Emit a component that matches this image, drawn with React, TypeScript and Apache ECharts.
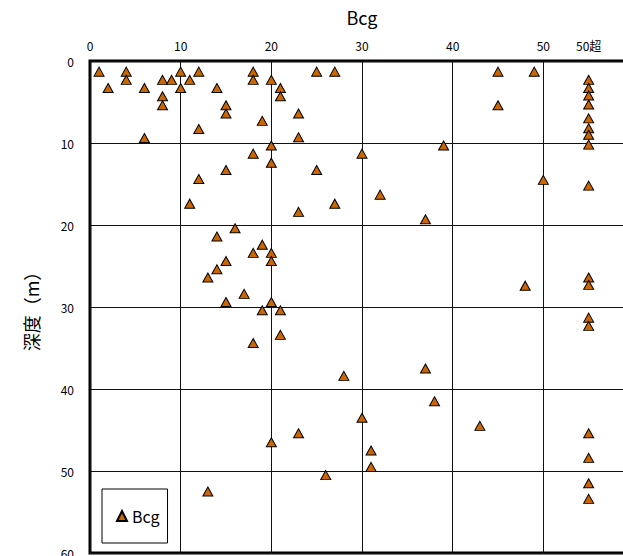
import React, { useEffect, useRef } from 'react';
import * as echarts from 'echarts';

// Bcg value of each test ("50超" = over 50), and its depth (m)
const OVER_LABEL = '50超';
const OVER_POS = 55;

const bcgValues: (number | string)[] = [
  1, 4, 4, 2, 6, 8, 9, 10, 10, 11, 12, 8, 8, 14, 15, 15, 18, 18, 19, 12,
  6, 18, 15, 12, 20, 21, 21, 25, 27, 23, 23, 20, 20, 25, 45, 49, 45,
  '50超', '50超', '50超', '50超', '50超', '50超', '50超', '50超',
  39, 30, 50, '50超',
  11, 23, 27, 16, 14, 19, 18, 20, 20, 15, 14, 13, 17, 15, 20, 19, 21, 21, 18, 28,
  32, 37, 48, '50超', '50超', '50超', '50超',
  37, 23, 20, 26, 13, 38, 30, 43, 31, 31,
  '50超', '50超', '50超', '50超',
];

const depthValues: number[] = [
  1.3, 1.3, 2.3, 3.3, 3.3, 2.3, 2.3, 1.3, 3.3, 2.3, 1.3, 4.3, 5.4, 3.3, 5.4, 6.4, 1.3, 2.3, 7.3, 8.3,
  9.4, 11.3, 13.3, 14.4, 2.3, 3.3, 4.3, 1.3, 1.3, 6.4, 9.3, 10.3, 12.4, 13.3, 1.3, 1.3, 5.4,
  2.3, 3.3, 4.2, 5.3, 7.0, 8.2, 9.0, 10.2,
  10.3, 11.3, 14.5, 15.2,
  17.4, 18.4, 17.4, 20.4, 21.4, 22.4, 23.4, 23.4, 24.4, 24.4, 25.4, 26.4, 28.4, 29.4, 29.4, 30.4, 30.4, 33.4, 34.4, 38.4,
  16.3, 19.3, 27.4, 26.4, 27.3, 31.3, 32.3,
  37.5, 45.4, 46.5, 50.5, 52.5, 41.5, 43.5, 44.5, 47.5, 49.5,
  45.4, 48.4, 51.5, 53.4,
];

const xTickLabels = ['0', '10', '20', '30', '40', '50'];

export default function App() {
  const ref = useRef<HTMLDivElement>(null);

  useEffect(() => {
    if (!ref.current) return;
    const chart = echarts.init(ref.current, null, { renderer: 'svg' });
    const font = '"Noto Sans CJK JP", "Noto Sans", sans-serif';
    const data = bcgValues.map((b, i) => [b === OVER_LABEL ? OVER_POS : b, depthValues[i]]);

    chart.setOption({
      animation: false,
      textStyle: { fontFamily: font, color: '#000' },
      grid: {
        left: 90,
        top: 61,
        width: 544,
        height: 492,
        show: true,
        borderColor: '#000',
        borderWidth: 3,
        backgroundColor: '#fff',
      },
      legend: {
        left: 102,
        top: 489,
        orient: 'vertical',
        backgroundColor: '#fff',
        borderColor: '#000',
        borderWidth: 1,
        borderRadius: 0,
        padding: [19, 8, 19, 14],
        itemWidth: 10,
        itemHeight: 10,
        textStyle: { fontSize: 16, color: '#000', fontFamily: font },
        data: [{ name: 'Bcg', icon: 'triangle' }],
      },
      xAxis: [
        {
          type: 'value',
          position: 'top',
          min: 0,
          max: 60,
          interval: 10,
          name: 'Bcg',
          nameLocation: 'middle',
          nameGap: 35,
          nameTextStyle: { fontSize: 18, color: '#000', fontFamily: font },
          axisLine: { show: false },
          axisTick: { show: false },
          axisLabel: {
            color: '#000',
            fontSize: 12,
            margin: 10,
            fontFamily: font,
            formatter: (v: number) => {
              const s = String(v);
              return xTickLabels.includes(s) ? s : '';
            },
          },
          splitLine: { show: true, lineStyle: { color: '#111', width: 1 } },
        },
        {
          type: 'value',
          position: 'top',
          min: 0,
          max: 60,
          interval: 55,
          axisLine: { show: false },
          axisTick: { show: false },
          splitLine: { show: false },
          axisLabel: {
            color: '#000',
            fontSize: 12,
            margin: 10,
            fontFamily: font,
            formatter: (v: number) => (v === OVER_POS ? OVER_LABEL : ''),
          },
        },
      ],
      yAxis: {
        type: 'value',
        inverse: true,
        min: 0,
        max: 60,
        interval: 10,
        name: '深度（m）',
        nameLocation: 'middle',
        nameRotate: 90,
        nameGap: 50,
        nameTextStyle: { fontSize: 18, color: '#000', fontFamily: font },
        axisLine: { show: false },
        axisTick: { show: false },
        axisLabel: { color: '#000', fontSize: 12, margin: 16, fontFamily: font },
        splitLine: { show: true, lineStyle: { color: '#111', width: 1 } },
      },
      series: [
        {
          name: 'Bcg',
          type: 'scatter',
          xAxisIndex: 0,
          symbol: 'triangle',
          symbolSize: [10, 9],
          itemStyle: { color: '#CC6600', borderColor: '#000', borderWidth: 1, opacity: 1 },
          data,
        },
      ],
    });

    return () => chart.dispose();
  }, []);

  return (
    <div style={{ position: 'fixed', left: 0, top: 0, width: 623, height: 556, overflow: 'hidden', background: '#fff' }}>
      <div ref={ref} style={{ width: 660, height: 580 }} />
    </div>
  );
}
